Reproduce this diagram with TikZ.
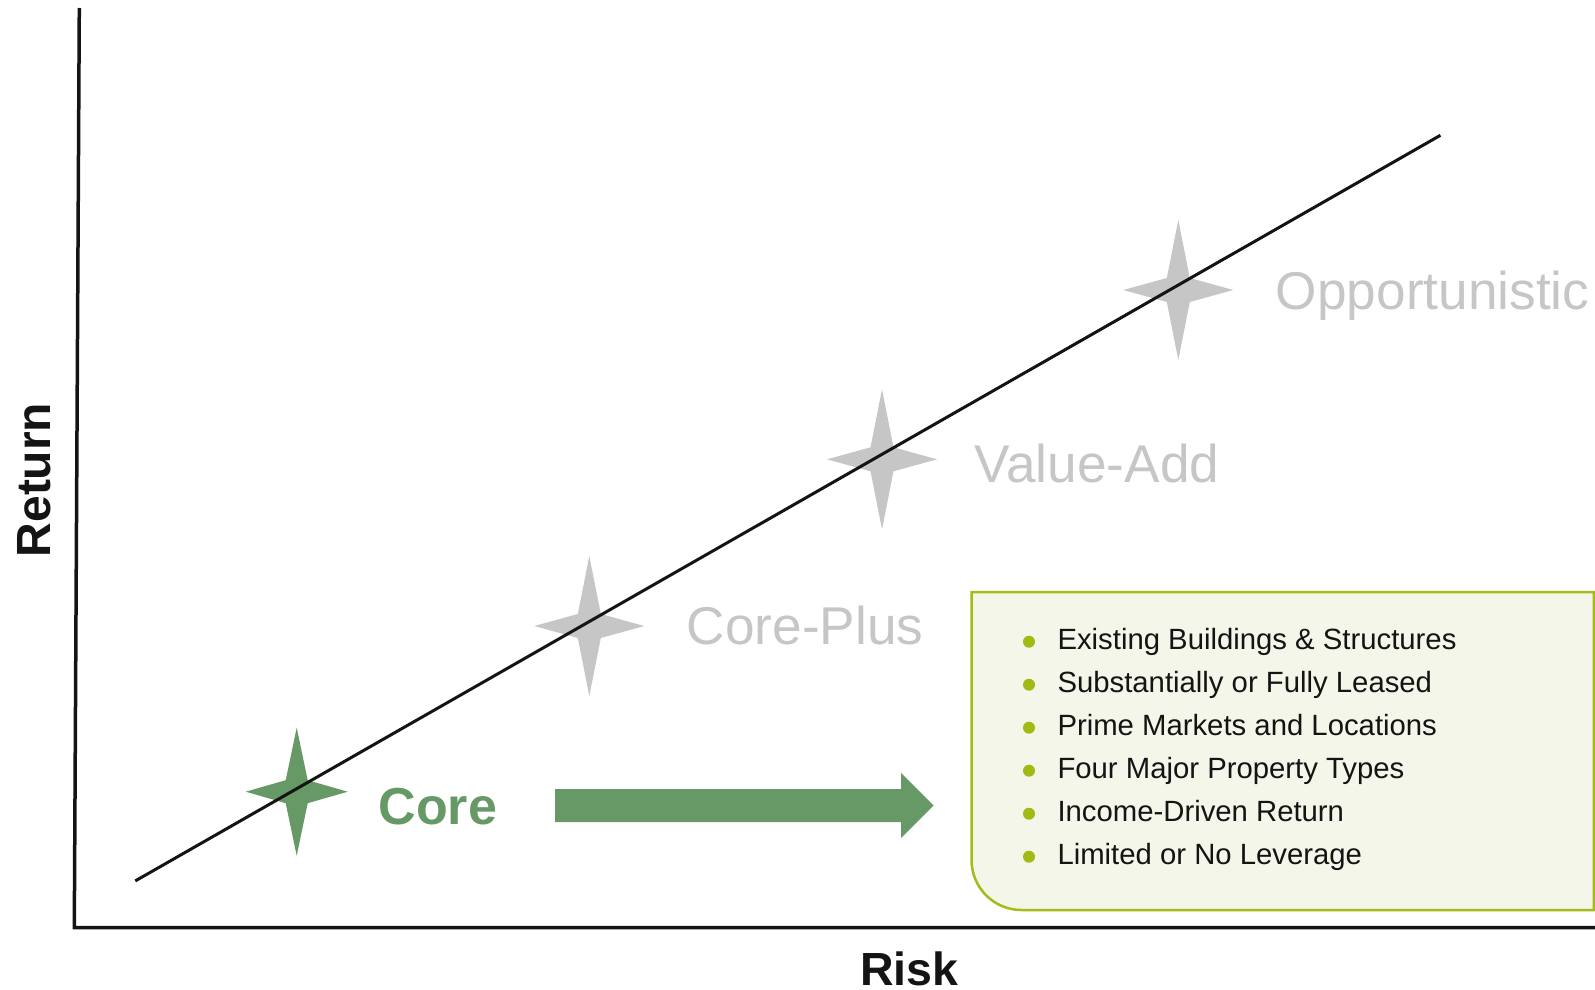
\documentclass[tikz,border=0pt]{standalone}
\usepackage{fontspec}
\setmainfont{Liberation Sans}
\definecolor{coregreen}{RGB}{102,153,102}
\definecolor{stargray}{RGB}{198,198,198}
\definecolor{boxline}{RGB}{166,186,24}
\definecolor{boxfill}{RGB}{244,246,233}
\definecolor{bulletc}{RGB}{164,186,20}
\definecolor{ink}{RGB}{20,20,20}
\tikzset{
  axisline/.style={draw=ink, line width=3.5pt},
  trendline/.style={draw=ink, line width=3pt},
  label/.style={inner sep=0pt, anchor=base west, font=\fontsize{53.2}{60}\selectfont},
  graylabel/.style={label, text=stargray},
  corelabel/.style={label, text=coregreen, font=\fontsize{52}{60}\selectfont\bfseries},
  axislabel/.style={inner sep=0pt, anchor=base, text=ink},
  item/.style={inner sep=0pt, anchor=base west, text=ink, font=\fontsize{29.3}{34}\selectfont},
  pics/fourstar/.style n args={5}{code={
    \fill[#1] (0,-#3) -- (#4,-#5) -- (#2,0) -- (#4,#5) -- (0,#3) -- (-#4,#5) -- (-#2,0) -- (-#4,-#5) -- cycle;
  }}
}
\begin{document}
\begin{tikzpicture}[x=1pt,y=-1pt]
\useasboundingbox (0,0) rectangle (1595,990);
% box
\filldraw[fill=boxfill, draw=boxline, line width=2.5pt]
  (1593.8,592) -- (971.5,592) -- (971.5,860) arc (180:90:50) -- (1593.8,910) -- cycle;
% axes
\coordinate (ytop) at (79.3,8);
\coordinate (origin) at (74.3,927.5);
\coordinate (xend) at (1595,927.5);
\draw[axisline] (ytop) -- (origin) -- (xend);
% stars
\pic at (296.7,791.7) {fourstar={coregreen}{51}{64}{11}{11.5}};
\pic at (589.3,626) {fourstar={stargray}{55}{70}{11.5}{12}};
\pic at (882,459.3) {fourstar={stargray}{55}{70}{11.5}{12}};
\pic at (1178.3,290) {fourstar={stargray}{55}{70}{11.5}{12}};
% trend line
\coordinate (tstart) at (135.3,880.9);
\coordinate (tend) at (1440.4,135.3);
\draw[trendline] (tstart) -- (tend);
% labels
\node[corelabel] (core) at (378.3,824.5) {Core};
\node[graylabel] (coreplus) at (686.7,644) {Core-Plus};
\node[graylabel] (valueadd) at (974.5,482) {Value-Add};
\node[graylabel] (opp) at (1275.7,309) {Opportunistic};
\node[axislabel, font=\fontsize{46.5}{52}\selectfont\bfseries] (risk) at (909.5,985) {Risk};
\node[axislabel, rotate=90, font=\fontsize{48}{56}\selectfont\bfseries] (ret) at (50.7,480) {Return};
% arrow
\fill[coregreen] (555,789) -- (901,789) -- (901,773) -- (933.5,805.5) -- (901,838) -- (901,822) -- (555,822) -- cycle;
% bullet list
\foreach \y/\t [count=\i] in {641.7/Existing Buildings \& Structures,
  684.7/Substantially or Fully Leased,
  727.7/Prime Markets and Locations,
  770.7/Four Major Property Types,
  813.7/Income-Driven Return,
  856.7/Limited or No Leverage}{
  \fill[bulletc] (1029,\y) circle (6);
  \node[item] (item\i) at (1057.3,\y+7.7) {\t};
}
\end{tikzpicture}
\end{document}
